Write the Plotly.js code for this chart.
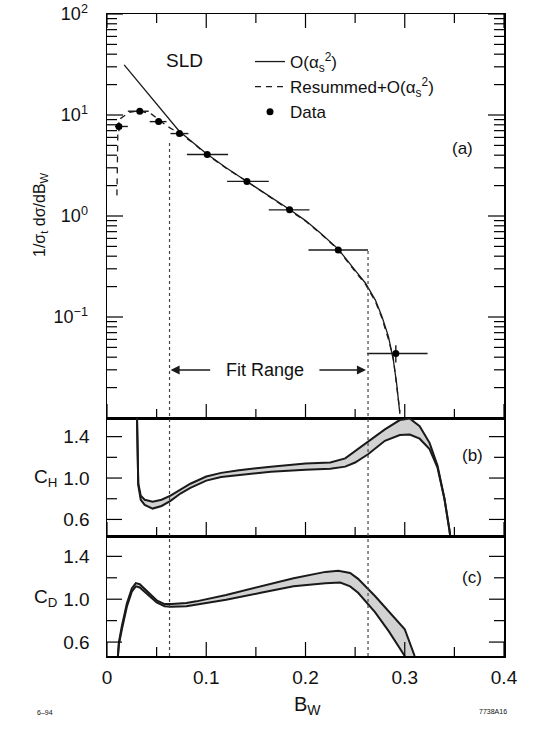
<!DOCTYPE html>
<html><head><meta charset="utf-8">
<script src="https://cdn.plot.ly/plotly-3.0.1.min.js"></script>
<style>html,body{margin:0;padding:0;background:#fff}#chart{width:534px;height:733px}</style>
</head><body><div id="chart"></div>
<script>
// ---- Panel (a): SLD data points ----
const dataBw      = [0.012, 0.033, 0.052, 0.073, 0.101, 0.141, 0.184, 0.233, 0.291];
const dataY       = [7.7, 10.9, 8.6, 6.55, 4.06, 2.2, 1.15, 0.461, 0.0435];
const dataBwLow   = [0.008, 0.021, 0.043, 0.064, 0.0805, 0.121, 0.163, 0.203, 0.262];
const dataBwHigh  = [0.021, 0.042, 0.060, 0.082, 0.122, 0.163, 0.204, 0.263, 0.323];
const dataErrUp   = [0.8, 0.3, 0.25, 0.15, 0.08, 0.05, 0.03, 0.015, 0.009];
const dataErrDown = [0.8, 0.3, 0.25, 0.15, 0.08, 0.05, 0.03, 0.015, 0.008];

// ---- Panel (a): O(alpha_s^2) curve ----
const fixedBw = [0.0173, 0.030, 0.045, 0.060, 0.0728, 0.085, 0.100, 0.120, 0.141, 0.160, 0.184, 0.200, 0.215, 0.233, 0.244, 0.2525, 0.2605, 0.2704, 0.277, 0.2836, 0.2885, 0.2918, 0.2951];
const fixedY  = [31.3, 22.2, 14.8, 9.8, 6.9, 5.5, 4.15, 3.0, 2.2, 1.65, 1.16, 0.90, 0.68, 0.47, 0.34, 0.27, 0.216, 0.147, 0.101, 0.064, 0.0375, 0.022, 0.011];

// ---- Panel (a): Resummed + O(alpha_s^2) curve ----
const resumBw = [0.0100, 0.0104, 0.0110, 0.0140, 0.0222, 0.0320, 0.0450, 0.0532, 0.0630, 0.0728, 0.085, 0.100, 0.120, 0.141, 0.160, 0.184, 0.200, 0.215, 0.233, 0.244, 0.2525, 0.2605, 0.2704, 0.277, 0.2836, 0.2885, 0.2918, 0.2951];
const resumY  = [1.6, 4.5, 7.8, 9.3, 10.6, 11.0, 10.2, 8.8, 7.5, 6.6, 5.45, 4.1, 2.98, 2.2, 1.64, 1.15, 0.89, 0.67, 0.465, 0.335, 0.265, 0.21, 0.142, 0.098, 0.060, 0.039, 0.021, 0.0115];

// ---- Panel (b): C_H band ----
const chBw    = [0.0300, 0.0305, 0.0315, 0.0340, 0.0380, 0.0460, 0.0550, 0.0640, 0.0740, 0.0840, 0.1000, 0.1150, 0.1330, 0.1650, 0.2000, 0.2250, 0.2400, 0.2500, 0.2630, 0.2800, 0.2950, 0.3050, 0.3150, 0.3250, 0.3330, 0.3400, 0.3450, 0.3470];
const chUpper = [1.70, 1.20, 0.95, 0.83, 0.79, 0.77, 0.79, 0.83, 0.89, 0.945, 1.015, 1.05, 1.075, 1.11, 1.14, 1.15, 1.19, 1.26, 1.345, 1.47, 1.56, 1.575, 1.50, 1.34, 1.12, 0.80, 0.50, 0.35];
const chLower = [1.70, 1.20, 0.93, 0.79, 0.74, 0.705, 0.73, 0.78, 0.85, 0.905, 0.975, 1.01, 1.03, 1.06, 1.08, 1.09, 1.11, 1.15, 1.23, 1.36, 1.415, 1.42, 1.38, 1.28, 1.10, 0.80, 0.50, 0.35];

// ---- Panel (c): C_D band ----
const cdBwUpper = [0.0100, 0.0120, 0.0150, 0.0200, 0.0250, 0.0290, 0.0330, 0.0400, 0.0500, 0.0580, 0.0650, 0.0800, 0.0900, 0.1200, 0.1550, 0.1880, 0.2200, 0.2330, 0.2450, 0.2530, 0.2700, 0.2860, 0.3000, 0.3100];
const cdUpper   = [0.35, 0.60, 0.75, 0.96, 1.10, 1.15, 1.14, 1.08, 0.99, 0.955, 0.955, 0.965, 0.98, 1.04, 1.12, 1.195, 1.255, 1.265, 1.245, 1.19, 1.03, 0.87, 0.72, 0.47];
const cdBwLower = [0.0100, 0.0120, 0.0150, 0.0200, 0.0250, 0.0290, 0.0330, 0.0400, 0.0500, 0.0580, 0.0650, 0.0800, 0.0900, 0.1200, 0.1550, 0.1880, 0.2200, 0.2350, 0.2450, 0.2530, 0.2700, 0.2840, 0.3000];
const cdLower   = [0.35, 0.58, 0.72, 0.93, 1.07, 1.12, 1.11, 1.05, 0.97, 0.935, 0.93, 0.935, 0.95, 0.995, 1.06, 1.12, 1.15, 1.155, 1.12, 1.06, 0.88, 0.70, 0.47];

// ---- Tick values and labels ----
const xTickVals = [0, 0.1, 0.2, 0.3, 0.4];
const xTickText = ['0', '0.1', '0.2', '0.3', '0.4'];
const xMinorVals = [0.05, 0.15, 0.25, 0.35];
const yaTickVals = [0.1, 1, 10, 100];
const yaTickText = ['10<sup>\u22121</sup>', '10<sup>0</sup>', '10<sup>1</sup>', '10<sup>2</sup>'];
const cTickVals = [0.6, 1.0, 1.4];
const cTickText = ['0.6', '1.0', '1.4'];
const cMinorVals = [0.8, 1.2];
const fitRange = [0.063, 0.263];

// ---- geometry helpers (layout only) ----
const L = 107, R = 504, T = 14, B = 656;
const H = B - T;
const dA = (418 - T) / H, dB = (536 - 418) / H;
const domC = [0, 1 - dA - dB], domB = [1 - dA - dB, 1 - dA], domA = [1 - dA, 1];
const px = (x) => (x - L) / (R - L);
const py = (y) => (B - y) / H;
const pxPerUnitX = (R - L) / 0.4;
const paperFromLog = (lg) => domA[0] + (lg + 2) / 4 * (domA[1] - domA[0]);

const logMinor = [];
[0.01, 0.1, 1, 10].forEach(d => { for (let k = 2; k <= 9; k++) logMinor.push(+(k * d).toPrecision(3)); });

const FONT = 'Liberation Sans, Arial, sans-serif';
const INK = '#000';
const lineCol = '#1a1a1a';
const fillCol = '#d2d2d2';

const traces = [
  {x: fixedBw, y: fixedY, xaxis: 'x', yaxis: 'y', mode: 'lines', name: 'O(\u03b1<sub>s</sub><sup>2</sup>)',
   line: {color: lineCol, width: 1.3}},
  {x: resumBw, y: resumY, xaxis: 'x', yaxis: 'y', mode: 'lines', name: 'Resummed+O(\u03b1<sub>s</sub><sup>2</sup>)',
   line: {color: lineCol, width: 1.3, dash: '6px,5px'}},
  {x: dataBw, y: dataY, xaxis: 'x', yaxis: 'y', mode: 'markers', name: 'Data',
   marker: {color: '#000', size: 7},
   error_x: {type: 'data', symmetric: false,
     array: dataBw.map((v, i) => dataBwHigh[i] - v),
     arrayminus: dataBw.map((v, i) => v - dataBwLow[i]),
     color: lineCol, thickness: 1.4, width: 0},
   error_y: {type: 'data', symmetric: false, array: dataErrUp, arrayminus: dataErrDown,
     color: lineCol, thickness: 1.4, width: 0}},
  {x: chBw, y: chLower, xaxis: 'x2', yaxis: 'y2', mode: 'lines', showlegend: false, line: {color: lineCol, width: 2}},
  {x: chBw, y: chUpper, xaxis: 'x2', yaxis: 'y2', mode: 'lines', showlegend: false, fill: 'tonexty', fillcolor: fillCol, line: {color: lineCol, width: 2}},
  {x: cdBwLower, y: cdLower, xaxis: 'x3', yaxis: 'y3', mode: 'lines', showlegend: false, line: {color: lineCol, width: 2}},
  {x: cdBwUpper, y: cdUpper, xaxis: 'x3', yaxis: 'y3', mode: 'lines', showlegend: false, fill: 'tonexty', fillcolor: fillCol, line: {color: lineCol, width: 2}}
];

const mkX = (extra) => Object.assign({
  range: [0, 0.4], showgrid: false, zeroline: false,
  showline: true, linecolor: INK, linewidth: 1.5, ticks: '',
  tickmode: 'array', tickvals: xTickVals, ticktext: xTickText,
  tickfont: {family: FONT, size: 19, color: '#111'}
}, extra);
const mkYLin = (range, dom, anchor) => ({
  range: range, domain: dom, anchor: anchor, showgrid: false, zeroline: false,
  showline: true, linecolor: INK, linewidth: 1.5, mirror: true, ticks: '',
  tickmode: 'array', tickvals: cTickVals, ticktext: cTickText,
  tickfont: {family: FONT, size: 19, color: '#111'}, ticklabelstandoff: 12
});

// ---- inside tick marks, placed through the axes (values from the tick arrays) ----
const tickLine = {color: INK, width: 1.2};
const tickShapes = [];
const addXTicks = (xref, yAnchor, dir, vals, len) => vals.forEach(v => tickShapes.push({
  type: 'line', xref: xref, x0: v, x1: v, yref: 'paper', ysizemode: 'pixel', yanchor: yAnchor,
  y0: 0, y1: dir * len, line: tickLine}));
const addYTicks = (yref, vals, len) => [[0, 1], [1, -1]].forEach(([anchor, dir]) => vals.forEach(v => tickShapes.push({
  type: 'line', yref: yref, y0: v, y1: v, xref: 'paper', xsizemode: 'pixel', xanchor: anchor,
  x0: 0, x1: dir * len, line: tickLine})));
// panel (a): bottom and top
addXTicks('x', domA[0], 1, xTickVals, 14);  addXTicks('x', domA[0], 1, xMinorVals, 9);
addXTicks('x', domA[1], -1, xTickVals, 14); addXTicks('x', domA[1], -1, xMinorVals, 9);
// panels (b), (c): bottom
addXTicks('x2', domB[0], 1, xTickVals, 14); addXTicks('x2', domB[0], 1, xMinorVals, 9);
addXTicks('x3', domC[0], 1, xTickVals, 14); addXTicks('x3', domC[0], 1, xMinorVals, 9);
// y ticks, left and right
addYTicks('y', yaTickVals, 16); addYTicks('y', logMinor, 10);
addYTicks('y2', cTickVals, 15); addYTicks('y2', cMinorVals, 10);
addYTicks('y3', cTickVals, 15); addYTicks('y3', cMinorVals, 10);

const ann = (text, x, y, size, extra) => Object.assign({
  text: text, x: px(x), y: py(y), xref: 'paper', yref: 'paper', showarrow: false,
  font: {family: FONT, size: size, color: '#111'}, xanchor: 'center', yanchor: 'middle'
}, extra || {});

const fitY = -1.525;
const arrowTailL = 0.107, arrowTailR = 0.211;
const layout = {
  width: 534, height: 733,
  margin: {l: L, r: 534 - R, t: T, b: 733 - B},
  font: {family: FONT, color: '#111'},
  xaxis: mkX({anchor: 'y', mirror: true, showticklabels: false}),
  xaxis2: mkX({anchor: 'y2', mirror: true, showticklabels: false}),
  xaxis3: mkX({anchor: 'y3', mirror: true, showticklabels: true, ticklabelstandoff: 4}),
  yaxis: {
    type: 'log', range: [-2, 2], domain: domA, anchor: 'x', showgrid: false, zeroline: false,
    showline: true, linecolor: INK, linewidth: 1.5, mirror: true, ticks: '',
    tickmode: 'array', tickvals: yaTickVals, ticktext: yaTickText,
    tickfont: {family: FONT, size: 18, color: '#111'}, ticklabelstandoff: 14
  },
  yaxis2: mkYLin([0.44, 1.58], domB, 'x2'),
  yaxis3: mkYLin([0.47, 1.59], domC, 'x3'),
  showlegend: true,
  legend: {x: px(250), y: py(44), xanchor: 'left', yanchor: 'top', bgcolor: 'rgba(0,0,0,0)', traceorder: 'normal',
    font: {family: FONT, size: 17, color: '#111'}, tracegroupgap: 0},
  shapes: [
    {type: 'line', xref: 'x', yref: 'paper', x0: fitRange[0], x1: fitRange[0], y0: 0, y1: paperFromLog(0.75), line: {color: '#444', width: 1.2, dash: 'dot'}},
    {type: 'line', xref: 'x', yref: 'paper', x0: fitRange[1], x1: fitRange[1], y0: 0, y1: paperFromLog(-0.337), line: {color: '#444', width: 1.2, dash: 'dot'}}
  ].concat(tickShapes),
  annotations: [
    ann('SLD', 184, 60, 19),
    ann('(a)', 462, 148, 17),
    ann('(b)', 472, 455, 17),
    ann('(c)', 472, 577, 17),
    ann('1/\u03c3<sub>t</sub> d\u03c3/dB<sub>W</sub>', 40, 215, 16, {textangle: -90}),
    ann('C<sub>H</sub>', 45, 478, 19),
    ann('C<sub>D</sub>', 45, 598, 19),
    ann('B<sub>W</sub>', 307, 705, 20),
    ann('6\u201394', 45, 712, 7),
    ann('7738A16', 493, 711, 7),
    {text: 'Fit Range', x: 0.159, y: fitY, xref: 'x', yref: 'y', showarrow: false, font: {family: FONT, size: 18, color: '#111'}},
    {x: fitRange[0] + 0.001, y: fitY, xref: 'x', yref: 'y', showarrow: true,
     ax: (arrowTailL - fitRange[0] - 0.001) * pxPerUnitX, ay: 0,
     arrowhead: 2, arrowsize: 1.3, arrowwidth: 1.4, arrowcolor: lineCol},
    {x: fitRange[1] - 0.002, y: fitY, xref: 'x', yref: 'y', showarrow: true,
     ax: (arrowTailR - fitRange[1] + 0.002) * pxPerUnitX, ay: 0,
     arrowhead: 2, arrowsize: 1.3, arrowwidth: 1.4, arrowcolor: lineCol}
  ]
};

Plotly.newPlot('chart', traces, layout, {displayModeBar: false, staticPlot: true});
</script>
</body></html>
